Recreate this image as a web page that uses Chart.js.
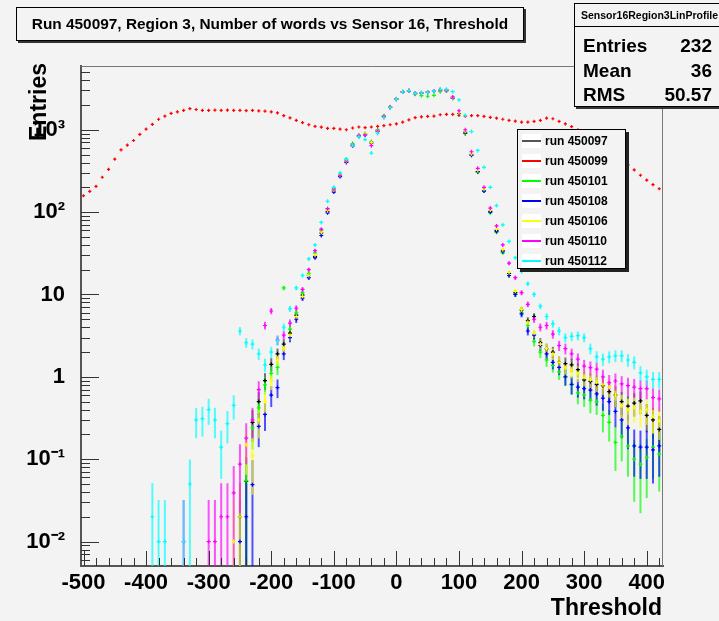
<!DOCTYPE html>
<html>
<head>
<meta charset="utf-8">
<script src="https://cdn.jsdelivr.net/npm/chart.js@4.4.1/dist/chart.umd.min.js"></script>
<style>
  body { margin: 0; background: #f3f3f3; font-family: "Liberation Sans", Arial, sans-serif; }
  #wrap { position: relative; width: 719px; height: 621px; overflow: hidden; background: #f3f3f3; }
  canvas { position: absolute; left: 0; top: 0; }
  .box { position: absolute; border: 1px solid #000; background: #f3f3f3; box-sizing: border-box; font-weight: bold; }
  #title { left: 16px; top: 7px; width: 508px; height: 34px; box-shadow: 2px 2px 0 #333;
           font-size: 15.4px; line-height: 32px; text-align: center; }
  #stats { left: 574px; top: 3px; width: 150px; height: 104px; box-shadow: 2px 2px 0 #333; }
  #stats .head { height: 22px; border-bottom: 1px solid #000; font-size: 10.5px; line-height: 22px; padding-left: 6px; margin-bottom: 7px; }
  #stats .row { position: relative; height: 24.5px; font-size: 19px; line-height: 24px; padding-left: 8px; }
  #stats .row span { position: absolute; right: 11px; top: 0; }
  #legend { left: 517px; top: 129px; width: 109px; height: 140px; box-shadow: 3px 3px 0 #222; padding-top: 1px; }
  #legend .item { height: 20px; font-size: 12px; line-height: 20px; position: relative; }
  #legend .swatch { position: absolute; left: 4px; top: 3px; width: 19px; height: 14px; background: #fff; }
  #legend .swatch i { position: absolute; left: 0; right: 0; top: 6px; height: 2px; }
  #legend .item b { position: absolute; left: 27px; top: 0; }
  .axtitle { position: absolute; font-weight: bold; font-size: 23px; line-height: 23px; width: 200px; text-align: right; }
  #ytitle { left: 27px; top: 263px; transform-origin: 0 0; transform: rotate(-90deg); }
  #xtitle { left: 462px; top: 596px; }
</style>
</head>
<body>
<div id="wrap">
  <canvas id="myChart" width="719" height="621"></canvas>
  <div id="title" class="box">Run 450097, Region 3, Number of words vs Sensor 16, Threshold</div>
  <div id="stats" class="box">
    <div class="head">Sensor16Region3LinProfile</div>
    <div class="row">Entries<span>232</span></div>
    <div class="row">Mean<span>36</span></div>
    <div class="row">RMS<span>50.57</span></div>
  </div>
  <div id="legend" class="box"></div>
  <div id="ytitle" class="axtitle">Entries</div>
  <div id="xtitle" class="axtitle">Threshold</div>
</div>
<script>
// bin centres (Threshold), step 10
const thresholds = [
  -500,-490,-480,-470,-460,-450,-440,-430,-420,-410,
  -400,-390,-380,-370,-360,-350,-340,-330,-320,-310,
  -300,-290,-280,-270,-260,-250,-240,-230,-220,-210,
  -200,-190,-180,-170,-160,-150,-140,-130,-120,-110,
  -100,-90,-80,-70,-60,-50,-40,-30,-20,-10,
  0,10,20,30,40,50,60,70,80,90,
  100,110,120,130,140,150,160,170,180,190,
  200,210,220,230,240,250,260,270,280,290,
  300,310,320,330,340,350,360,370,380,390,
  400,410,420
];

const runNames = ['run 450097','run 450099','run 450101','run 450108','run 450106','run 450110','run 450112'];
const runColors = ['#000000','#ff0000','#00ff00','#0000ff','#ffff00','#ff00ff','#00ffff'];
const legendColors = ['#555555','#ff0000','#00ff00','#0000ff','#ffff00','#ff00ff','#00ffff'];

const run450097 = [
  null,null,null,null,null,null,null,null,null,null,
  null,null,null,null,null,null,null,null,null,null,
  null,null,null,null,null,0.02,0.054,0.28,0.5,0.9,
  1.42,1.9,2.5,3.4,5.6,9.8,17,29,56,102,
  182,275,410,640,830,880,690,960,1450,1880,
  2350,2900,2980,2760,2800,2860,2950,3060,3000,2450,
  1600,900,500,310,180,102,60,34,18,10.5,
  6.5,4.8,5.4,2.6,2.2,2.0,1.5,1.45,1.4,1.22,
  0.92,0.88,0.81,0.78,0.66,0.6,0.5,0.44,0.48,0.51,
  0.34,0.3,0.23
];
const run450099 = [
  158,178,205,265,330,440,570,650,740,880,
  1020,1160,1340,1460,1580,1650,1720,1800,1760,1720,
  1720,1730,1720,1730,1720,1720,1710,1720,1690,1680,
  1650,1600,1480,1390,1300,1220,1150,1100,1075,1040,
  1040,1020,1000,1050,1080,1060,1080,1100,1120,1150,
  1180,1240,1320,1400,1430,1450,1460,1520,1540,1540,
  1490,1460,1480,1480,1450,1410,1380,1340,1300,1270,
  1240,1240,1260,1300,1380,1360,1260,1180,1090,1000,
  900,810,720,640,560,490,430,375,325,280,
  245,215,192
];
const run450101 = [
  null,null,null,null,null,null,null,null,null,null,
  null,null,null,null,null,null,null,null,null,null,
  null,null,null,null,null,null,0.055,0.24,0.42,0.8,
  1.1,1.3,12,3.8,6.0,10.5,18,32,60,110,
  195,290,440,680,860,900,720,1000,1480,1900,
  2380,2900,2950,2700,2600,2550,2620,2900,2950,2400,
  1580,920,490,305,180,98,57,32,17,10,
  6.0,4.2,2.7,2.0,1.6,1.38,1.15,1.0,0.8,0.64,
  0.6,0.52,0.5,0.34,0.28,0.16,0.19,0.145,0.1,0.087,
  0.105,0.14,0.115
];
const run450108 = [
  null,null,null,null,null,null,null,null,null,null,
  null,null,null,null,null,null,null,null,null,null,
  null,null,null,null,null,0.01,0.02,0.049,0.25,0.35,
  0.6,0.74,1.9,3.0,5.0,9.0,16,28,52,98,
  175,270,400,640,840,870,700,980,1460,1870,
  2360,2880,2980,2760,2820,2870,2960,3050,3000,2420,
  1600,940,490,310,180,100,58,33,17,10,
  5.8,3.6,3.2,2.4,1.9,1.5,1.3,1.0,0.81,0.75,
  0.72,0.69,0.62,0.55,0.5,0.38,0.3,0.24,0.145,0.14,
  0.14,0.13,0.145
];
const run450106 = [
  null,null,null,null,null,null,null,null,null,null,
  null,null,null,null,null,null,null,null,null,null,
  null,null,null,null,0.01,0.02,0.15,0.11,0.3,0.5,
  0.9,1.6,2.2,3.2,5.4,9.5,17,30,57,104,
  185,280,415,650,840,890,700,970,1460,1880,
  2360,2900,2990,2770,2810,2870,2950,3060,3010,2450,
  1620,960,510,320,190,106,62,35,18.5,11,
  6.6,4.6,3.4,2.5,2.2,1.9,1.5,1.29,1.2,1.1,
  0.98,0.92,0.86,0.8,0.75,0.6,0.45,0.4,0.42,0.38,
  0.4,0.33,0.29
];
const run450110 = [
  null,null,null,null,null,null,null,null,null,null,
  null,null,null,null,null,null,0.01,null,null,null,
  0.01,0.01,0.02,0.02,0.039,0.087,0.18,0.3,0.7,4.2,
  6.3,2.8,3.2,4.5,6.8,11.5,20,34,62,110,
  190,280,420,660,850,860,640,950,1440,1870,
  2340,2880,2970,2750,2790,2850,2940,3040,3020,2500,
  1700,1000,540,340,200,112,68,40,24,16,
  10.5,7.6,5.0,4.0,4.2,3.3,2.4,2.2,1.9,1.64,
  1.35,1.29,1.24,1.0,0.85,0.89,0.82,0.78,0.75,0.72,
  0.72,0.56,0.54
];
const run450112 = [
  null,null,null,null,null,null,null,null,null,null,
  null,0.02,0.01,0.01,null,null,0.01,0.05,0.3,0.31,
  0.4,0.3,0.14,0.27,0.45,3.6,2.6,2.5,1.9,1.4,
  2.0,2.75,4.0,6.7,12,17,27,40,75,135,
  200,300,440,650,820,760,520,900,1400,1850,
  2350,2880,2980,2760,2800,2860,2960,3080,3100,2900,
  2300,1500,950,560,350,200,120,70,44,28,
  19,13.5,10,7.2,5.4,4.4,3.6,3.0,3.1,3.16,
  3.0,2.2,1.75,1.64,1.75,1.8,1.8,1.6,1.5,1.12,
  1.0,0.93,0.93
];
const runValues = [run450097, run450099, run450101, run450108, run450106, run450110, run450112];

const xTickLabels = ['-500','-400','-300','-200','-100','0','100','200','300','400'];
const yTickLabels = ['10⁻²','10⁻¹','1','10','10²','10³'];

const errScale = 0.22; // error bar half-size ~ errScale*sqrt(value)

// legend box
const legendEl = document.getElementById('legend');
runNames.forEach((n, i) => {
  const d = document.createElement('div');
  d.className = 'item';
  d.innerHTML = '<div class="swatch"><i style="background:' + legendColors[i] + '"></i></div><b>' + n + '</b>';
  legendEl.appendChild(d);
});

// ROOT draws the runs in order, so the last one ends up on top
const datasets = runNames.map((n, i) => ({
  label: n,
  order: runNames.length - i,
  data: thresholds.map((t, j) => ({ x: t, y: runValues[i][j] })).filter(p => p.y !== null),
  borderColor: runColors[i],
  backgroundColor: runColors[i],
  errColor: runColors[i] === '#000000' ? 'rgba(60,60,60,0.7)' : runColors[i] + 'aa',
  pointStyle: 'cross',
  pointRadius: i === 1 ? 1.6 : 2,
  pointBorderWidth: 1.2,
  showLine: false
}));

const isPow10 = v => Math.abs(Math.log10(v) - Math.round(Math.log10(v))) < 1e-9;

const rootStyle = {
  id: 'rootStyle',
  beforeDatasetsDraw(chart) {
    const { ctx, chartArea: a, scales: { y } } = chart;
    ctx.save();
    ctx.beginPath();
    ctx.rect(a.left, a.top, a.right - a.left, a.bottom - a.top);
    ctx.clip();
    ctx.lineWidth = 2;
    chart.data.datasets.forEach((ds, i) => {
      const meta = chart.getDatasetMeta(i);
      ctx.strokeStyle = ds.errColor;
      meta.data.forEach((pt, j) => {
        const v = ds.data[j].y;
        const e = errScale * Math.sqrt(v);
        const top = y.getPixelForValue(v + e);
        const bot = v - e > 0 ? y.getPixelForValue(v - e) : a.bottom + 5;
        ctx.beginPath();
        ctx.moveTo(pt.x, top);
        ctx.lineTo(pt.x, bot);
        ctx.stroke();
      });
    });
    ctx.restore();
  },
  afterDraw(chart) {
    const { ctx, chartArea: a, scales: { x, y } } = chart;
    ctx.save();
    ctx.strokeStyle = '#333';
    ctx.lineWidth = 1;
    y.ticks.forEach(t => {
      const p = Math.round(y.getPixelForValue(t.value)) + 0.5;
      const len = isPow10(t.value) ? 18 : 9;
      ctx.beginPath(); ctx.moveTo(a.left, p); ctx.lineTo(a.left + len, p); ctx.stroke();
    });
    x.ticks.forEach(t => {
      const p = Math.round(x.getPixelForValue(t.value)) + 0.5;
      const len = t.value % 100 === 0 ? 15 : 8;
      ctx.beginPath(); ctx.moveTo(p, a.bottom); ctx.lineTo(p, a.bottom - len); ctx.stroke();
    });
    ctx.strokeStyle = '#777';
    ctx.beginPath();
    ctx.moveTo(a.left, a.top + 0.5); ctx.lineTo(a.right - 0.5, a.top + 0.5); ctx.lineTo(a.right - 0.5, a.bottom);
    ctx.stroke();
    ctx.restore();
  }
};

const tickFont = { family: '"Liberation Sans", Arial, sans-serif', size: 22, weight: 'bold' };

new Chart(document.getElementById('myChart').getContext('2d'), {
  type: 'scatter',
  data: { datasets },
  options: {
    responsive: false,
    animation: false,
    layout: { padding: { left: 0, right: 56, top: 66, bottom: 0 } },
    plugins: { legend: { display: false }, tooltip: { enabled: false } },
    scales: {
      x: {
        type: 'linear', min: -504, max: 426,
        afterBuildTicks: s => {
          const t = [];
          for (let v = -500; v <= 420; v += 20) t.push({ value: v });
          s.ticks = t;
        },
        afterFit: s => { s.height = 55; },
        grid: { display: false, drawTicks: false },
        border: { display: true, color: '#555', width: 2 },
        ticks: {
          autoSkip: false, maxRotation: 0, padding: 4, color: '#000', font: tickFont,
          callback: v => (v % 100 === 0 ? xTickLabels[(v + 500) / 100] : '')
        }
      },
      y: {
        type: 'logarithmic', min: 0.00505, max: 5940,
        afterBuildTicks: s => {
          const t = [];
          for (let e = -3; e <= 3; e++) {
            for (let k = 1; k <= 9; k++) {
              const v = k * Math.pow(10, e);
              if (v >= 0.00505 && v <= 5940) t.push({ value: v });
            }
          }
          s.ticks = t;
        },
        afterFit: s => { s.width = 81; },
        grid: { display: false, drawTicks: false },
        border: { display: true, color: '#555', width: 2 },
        ticks: {
          autoSkip: false, padding: 16, color: '#000', font: tickFont,
          callback: v => (isPow10(v) ? yTickLabels[Math.round(Math.log10(v)) + 2] : '')
        }
      }
    }
  },
  plugins: [rootStyle]
});
</script>
</body>
</html>
